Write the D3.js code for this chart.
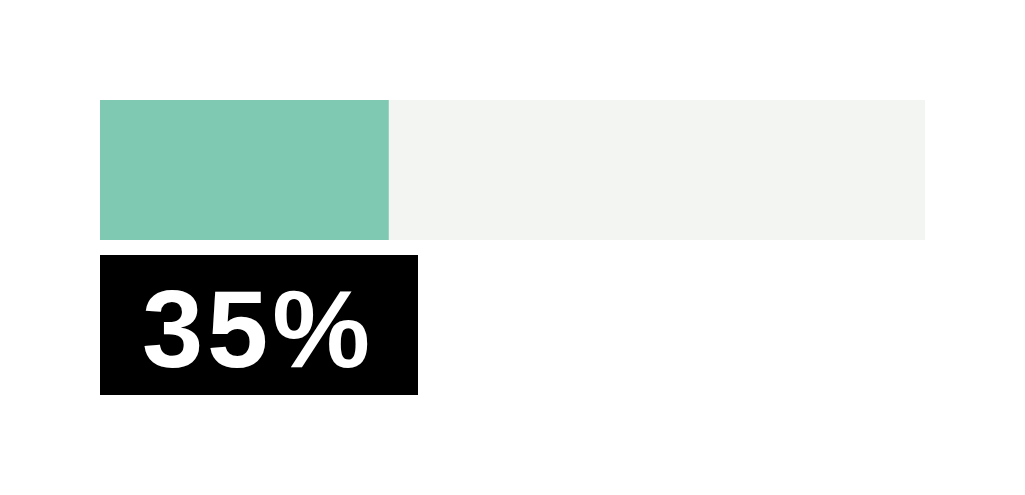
<!DOCTYPE html>
<html><head><meta charset="utf-8">
<script src="https://cdn.jsdelivr.net/npm/d3@7"></script>
<style>html,body{margin:0;padding:0;background:#fff;}</style>
</head><body>
<svg id="c" width="1025" height="495"></svg>
<script>
const value = 35;
const domainMax = [100];
const labels = ["35%"];

const svg = d3.select("#c");
const x = d3.scaleLinear().domain([0, domainMax[0]]).range([100, 925]);
const y = d3.scaleBand().domain(["bar"]).range([100, 240]).padding(0);

svg.append("rect").attr("x", x(0)).attr("y", y("bar"))
  .attr("width", x(domainMax[0]) - x(0)).attr("height", y.bandwidth()).attr("fill", "#f3f5f2");
svg.append("rect").attr("x", x(0)).attr("y", y("bar"))
  .attr("width", x(value) - x(0)).attr("height", y.bandwidth()).attr("fill", "#7fc8b2");

const boxX = 100, boxY = 255, boxW = 318, boxH = 140;
svg.append("rect").attr("x", boxX).attr("y", boxY).attr("width", boxW).attr("height", boxH).attr("fill", "#000");
const cx = 258, cy = 367;
svg.append("text")
  .attr("transform", `translate(${cx},${cy}) scale(1.0,1)`)
  .attr("text-anchor", "middle")
  .attr("font-family", "Liberation Sans, Arial, sans-serif")
  .attr("font-weight", "bold")
  .attr("font-size", 110)
  .attr("letter-spacing", 4)
  .attr("fill", "#fff")
  .text(labels[0]);
</script>
</body></html>
